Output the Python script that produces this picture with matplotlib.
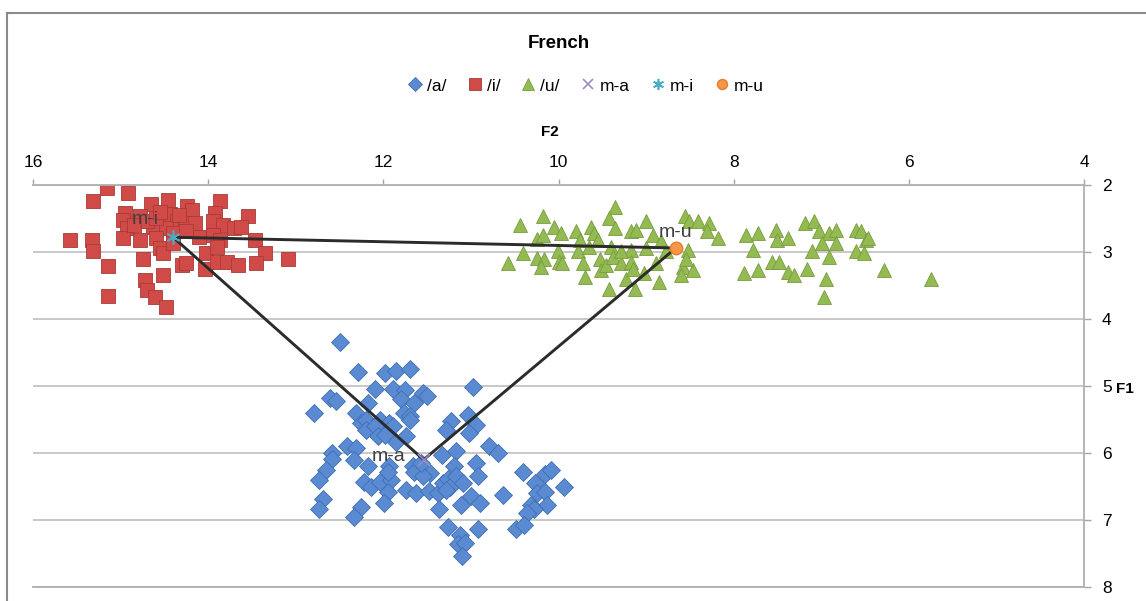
import matplotlib.pyplot as plt
from matplotlib.lines import Line2D

plt.rcParams['font.family'] = ['Liberation Sans', 'DejaVu Sans']

# /a/ tokens (F2, F1)
a_f2 = [12.50, 12.29, 11.98, 11.86, 11.69, 12.10, 11.89, 11.75, 11.80, 11.55,
        11.50, 11.65, 10.98, 12.61, 12.54, 12.18, 12.79, 12.31, 11.76, 11.70,
        11.69, 12.25, 12.20, 12.04, 11.93, 12.20, 12.10, 11.89, 12.06, 11.98,
        11.86, 11.74, 11.23, 11.28, 11.03, 10.94, 11.02, 12.41, 12.31, 12.59,
        12.59, 12.33, 12.17, 11.93, 11.66, 11.65, 11.47, 11.55, 11.33, 11.17,
        11.19, 10.79, 10.69, 10.94, 10.92, 12.66, 12.74, 12.22, 12.14, 12.04,
        11.91, 11.95, 11.74, 11.63, 11.48, 11.38, 11.32, 11.26, 11.24, 11.17,
        11.09, 11.28, 12.69, 12.74, 12.26, 12.33, 11.99, 11.36, 11.11, 11.00,
        10.90, 10.63, 10.40, 10.27, 10.24, 10.15, 10.15, 10.08, 9.94, 10.13,
        10.31, 10.28, 10.36, 10.48, 10.39, 11.26, 11.13, 11.15, 11.07, 11.10,
        10.92, 11.57, 11.95]
a_f1 = [4.35, 4.79, 4.80, 4.78, 4.74, 5.04, 5.05, 5.06, 5.19, 5.10,
        5.15, 5.25, 5.01, 5.18, 5.23, 5.25, 5.41, 5.40, 5.40, 5.45,
        5.50, 5.55, 5.50, 5.50, 5.55, 5.65, 5.60, 5.60, 5.75, 5.73,
        5.83, 5.75, 5.52, 5.65, 5.43, 5.58, 5.70, 5.89, 5.93, 6.00,
        6.09, 6.10, 6.19, 6.20, 6.20, 6.28, 6.30, 6.35, 6.03, 5.97,
        6.20, 5.90, 6.00, 6.15, 6.35, 6.26, 6.40, 6.44, 6.50, 6.44,
        6.40, 6.58, 6.55, 6.59, 6.56, 6.59, 6.45, 6.39, 6.50, 6.34,
        6.45, 6.55, 6.69, 6.83, 6.81, 6.95, 6.74, 6.83, 6.78, 6.64,
        6.74, 6.63, 6.28, 6.45, 6.59, 6.58, 6.31, 6.25, 6.50, 6.78,
        6.78, 6.83, 6.90, 7.13, 7.08, 7.11, 7.23, 7.36, 7.34, 7.53,
        7.13, 6.15, 6.28]

# /i/ tokens
i_f2 = [15.16, 14.92, 15.31, 14.65, 14.46, 14.24, 14.19, 13.86, 13.92, 13.54,
        14.95, 14.97, 14.78, 14.44, 14.36, 14.27, 14.15, 13.94, 13.83, 13.71,
        13.62, 14.93, 14.63, 14.48, 14.40, 14.97, 14.78, 14.59, 15.58, 15.33,
        15.31, 14.10, 13.94, 13.87, 13.47, 14.55, 14.51, 14.40, 14.02, 13.90,
        13.35, 13.09, 14.74, 15.14, 14.30, 14.25, 14.04, 13.90, 13.79, 13.66,
        13.45, 14.72, 14.70, 14.51, 15.14, 14.61, 14.48, 14.70, 14.59, 14.25,
        14.85, 14.55, 14.33]
i_f1 = [2.05, 2.12, 2.24, 2.28, 2.22, 2.32, 2.38, 2.24, 2.42, 2.47,
        2.42, 2.52, 2.47, 2.44, 2.54, 2.57, 2.57, 2.54, 2.59, 2.64,
        2.62, 2.64, 2.62, 2.64, 2.72, 2.79, 2.82, 2.79, 2.82, 2.82,
        2.98, 2.77, 2.74, 2.82, 2.82, 2.94, 3.02, 2.87, 3.02, 2.92,
        3.02, 3.10, 3.10, 3.21, 3.20, 3.17, 3.25, 3.15, 3.15, 3.19,
        3.17, 3.42, 3.57, 3.35, 3.65, 3.67, 3.82, 2.54, 2.49, 2.69,
        2.60, 2.40, 2.45]

# /u/ tokens
u_f2 = [10.44, 10.18, 10.05, 9.97, 10.24, 10.18, 10.41, 10.58, 10.24, 10.16,
        10.20, 10.01, 9.99, 9.96, 9.80, 9.76, 9.78, 9.72, 9.70, 9.63,
        9.59, 9.65, 9.55, 9.53, 9.51, 9.46, 9.42, 9.36, 9.42, 9.36,
        9.40, 9.38, 9.23, 9.29, 9.17, 9.11, 9.17, 9.17, 9.15, 9.13,
        9.00, 8.92, 9.00, 9.02, 8.85, 8.89, 8.83, 8.56, 8.51, 8.41,
        8.52, 8.58, 8.60, 8.47, 8.28, 8.30, 8.18, 7.86, 7.72, 7.78,
        7.88, 7.72, 7.52, 7.50, 7.38, 7.56, 7.48, 7.38, 7.31, 7.19,
        7.08, 7.02, 6.91, 6.83, 6.99, 6.83, 7.10, 6.91, 7.16, 6.95,
        6.97, 6.60, 6.55, 6.49, 6.47, 6.60, 6.51, 6.28, 5.75, 8.54,
        8.77, 9.29]
u_f1 = [2.60, 2.46, 2.62, 2.72, 2.80, 2.74, 3.01, 3.16, 3.09, 3.10,
        3.22, 2.99, 3.15, 3.17, 2.69, 2.82, 2.99, 3.17, 3.37, 2.62,
        2.72, 2.92, 2.82, 3.10, 3.27, 3.20, 3.55, 2.33, 2.49, 2.64,
        2.92, 3.07, 3.40, 3.17, 2.69, 2.67, 2.97, 3.15, 3.25, 3.55,
        2.54, 2.74, 2.94, 3.32, 3.45, 3.17, 2.84, 2.47, 2.54, 2.54,
        2.97, 3.22, 3.35, 3.27, 2.57, 2.69, 2.79, 2.74, 2.72, 2.97,
        3.32, 3.27, 2.67, 2.82, 2.79, 3.15, 3.15, 3.30, 3.35, 2.57,
        2.54, 2.69, 2.72, 2.67, 2.87, 2.87, 2.99, 3.07, 3.25, 3.40,
        3.67, 2.67, 2.69, 2.82, 2.79, 2.99, 3.02, 3.27, 3.40, 3.10,
        2.99, 2.99]

# vowel means
mean_names = ['m-a', 'm-i', 'm-u']
mean_f2 = [11.54, 14.40, 8.66]
mean_f1 = [6.10, 2.78, 2.94]

fig = plt.figure(figsize=(11.46, 6.01), dpi=100)
ax = fig.add_axes([33 / 1146, 1 - 587 / 601, (1084 - 33) / 1146, (587 - 185) / 601])

ax.plot(a_f2, a_f1, 'D', ms=9.3, color='#5a8ad2', mec='#3f6fb0', mew=0.6, label='/a/')
ax.plot(i_f2, i_f1, 's', ms=10.5, color='#d04b48', mec='#a83a37', mew=0.6, label='/i/')
ax.plot(u_f2, u_f1, '^', ms=10.5, color='#93bb52', mec='#789b3f', mew=0.6, label='/u/')

# triangle through the three means
ax.plot([mean_f2[1], mean_f2[2], mean_f2[0], mean_f2[1]],
        [mean_f1[1], mean_f1[2], mean_f1[0], mean_f1[1]],
        color='#2b2b2b', lw=2.1, zorder=4)

ax.plot(mean_f2[0], mean_f1[0], 'x', ms=9, mew=1.2, color='#9d8cc6', zorder=5, label='m-a')
ax.plot(mean_f2[1], mean_f1[1], marker=(6, 2, 0), ls='none', ms=10, mew=1.2,
        color='#4bacc6', zorder=5, label='m-i')
ax.plot(mean_f2[2], mean_f1[2], 'o', ms=9, color='#f79646', mec='#e07f30', zorder=5, label='m-u')

label_offsets = [(-25, 2), (-20, 13), (0, 11)]
for name, x, y, off in zip(mean_names, mean_f2, mean_f1, label_offsets):
    ax.annotate(name, (x, y), xytext=off, textcoords='offset points',
                ha='center', va='center', fontsize=14, color='#404040', zorder=6)

ax.set_xlim(16, 4)
ax.set_ylim(8, 2)
ax.set_xticks([16, 14, 12, 10, 8, 6, 4])
ax.set_yticks([2, 3, 4, 5, 6, 7, 8])
ax.xaxis.tick_top()
ax.yaxis.tick_right()
ax.tick_params(axis='x', length=4, width=1, color='#a6a6a6', pad=7, labelsize=12.5)
ax.tick_params(axis='y', length=5, width=1, color='#a6a6a6', pad=8, labelsize=12.5)
ax.grid(axis='y', color='#c4c4c4', lw=1.3)
ax.set_axisbelow(True)
ax.spines['left'].set_visible(False)
for side in ['top', 'right', 'bottom']:
    ax.spines[side].set_color('#b0b0b0')
    ax.spines[side].set_linewidth(1.3)

fig.text(559 / 1146, 1 - 43 / 601, 'French', ha='center', va='center',
         fontsize=13.5, fontweight='bold')
fig.text(550 / 1146, 1 - 132 / 601, 'F2', ha='center', va='center',
         fontsize=11, fontweight='bold')
fig.text(1125 / 1146, 1 - 389 / 601, 'F1', ha='center', va='center',
         fontsize=11, fontweight='bold')

handles, labels = ax.get_legend_handles_labels()
fig.legend(handles, labels, loc='center', bbox_to_anchor=(586 / 1146, 1 - 86 / 601),
           ncol=6, frameon=False, fontsize=12.5, handlelength=0.8,
           handletextpad=0.3, columnspacing=1.2, markerscale=0.8)

# chart frame
fig.add_artist(Line2D([7 / 1146, 7 / 1146], [0, 1 - 13 / 601], color='#8a8a8a', lw=1.5))
fig.add_artist(Line2D([7 / 1146, 1], [1 - 13 / 601, 1 - 13 / 601], color='#8a8a8a', lw=1.5))

fig.savefig('out.png', dpi=100)
